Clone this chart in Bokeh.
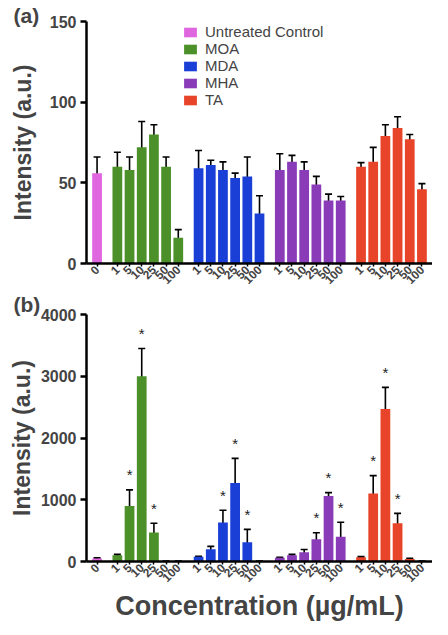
from bokeh.plotting import figure
from bokeh.layouts import column
from bokeh.models import ColumnDataSource, Whisker, TeeHead, FixedTicker, Legend, LegendItem
from bokeh.embed import file_html
from bokeh.resources import INLINE
from bokeh.core.properties import value

groups = ["Untreated Control", "MOA", "MDA", "MHA", "TA"]
colors = ["#e066e0", "#4b9028", "#1a3fd6", "#8a3cb8", "#e8442a"]
conc_labels = ["1", "5", "10", "25", "50", "100"]
control_label = "0"

# Panel (a): control mean, low, high
ctrl_a = [56, 46, 66]
a_vals = {
    "MOA": [60, 58, 72, 80, 60, 16],
    "MDA": [59, 61, 58, 53, 54, 31],
    "MHA": [58, 63, 58, 49, 39, 39],
    "TA":  [60, 63, 79, 84, 77, 46],
}
a_err = {
    "MOA": [9, 8, 16, 6, 6, 5],
    "MDA": [11, 3, 5, 3, 12, 11],
    "MHA": [10, 4, 5, 5, 4, 2.5],
    "TA":  [2.5, 9, 7, 7, 3, 3.5],
}
# Panel (b)
ctrl_b = [50, 40, 60]
b_vals = {
    "MOA": [100, 900, 3000, 470, 5, 5],
    "MDA": [75, 200, 630, 1270, 310, 5],
    "MHA": [60, 100, 150, 360, 1060, 400],
    "TA":  [70, 1100, 2470, 620, 40, 5],
}
b_err = {
    "MOA": [15, 260, 450, 150, 0, 0],
    "MDA": [10, 45, 200, 400, 210, 0],
    "MHA": [10, 15, 45, 105, 55, 235],
    "TA":  [10, 290, 350, 160, 10, 0],
}
b_star = {
    "MOA": [0, 1, 1, 1, 0, 0],
    "MDA": [0, 0, 1, 1, 1, 0],
    "MHA": [0, 0, 0, 1, 1, 1],
    "TA":  [0, 1, 1, 1, 0, 0],
}

FONT = "Liberation Sans"

def positions():
    xs = {"Untreated Control": [0]}
    for g, name in enumerate(groups[1:]):
        xs[name] = [20 * g + 5 + 3 * i for i in range(len(conc_labels))]
    return xs

XS = positions()

def build(panel, ctrl, vals, errs, ymax, yticks, frame_h, top_border, bottom_border,
          title_standoff, letter_standoff, stars=None, xlabel=None):
    p = figure(frame_width=346, frame_height=frame_h, output_backend="svg", toolbar_location=None,
               x_range=(-2.6, 82.6), y_range=(0, ymax),
               min_border_left=86, min_border_right=0,
               min_border_top=top_border, min_border_bottom=bottom_border)
    p.outline_line_color = None
    p.grid.grid_line_color = None
    p.background_fill_color = "white"
    p.border_fill_color = "white"

    p.title.text = panel
    p.title.align = "left"
    p.title.offset = -73
    p.title.standoff = letter_standoff
    p.title.text_font = FONT
    p.title.text_font_style = "bold"
    p.title.text_font_size = "21px"

    legend_items = []
    tick_pos, tick_lab = [], {}
    for gi, name in enumerate(groups):
        xs = XS[name]
        if name == "Untreated Control":
            tops = [ctrl[0]]
            lo = [ctrl[1]]
            hi = [ctrl[2]]
            labs = [control_label]
            st = [0]
        else:
            tops = vals[name]
            lo = [v - e for v, e in zip(vals[name], errs[name])]
            hi = [v + e for v, e in zip(vals[name], errs[name])]
            labs = conc_labels
            st = stars[name] if stars else [0] * len(xs)
        src = ColumnDataSource(dict(x=xs, top=tops, lo=lo, hi=hi))
        r = p.vbar(x="x", top="top", width=2.4, bottom=0, source=src,
                   fill_color=colors[gi], line_color=None)
        legend_items.append(LegendItem(label=name, renderers=[r]))
        w = Whisker(base="x", lower="lo", upper="hi", source=src,
                    line_color="black", line_width=1.6,
                    upper_head=TeeHead(size=7, line_color="black", line_width=1.6),
                    lower_head=TeeHead(size=7, line_color="black", line_width=1.6))
        p.add_layout(w)
        sx = [x for x, s in zip(xs, st) if s]
        sy = [h for h, s in zip(hi, st) if s]
        if sx:
            p.text(x=sx, y=sy, text=["*"] * len(sx), text_align="center",
                   text_baseline="middle", y_offset=-15, text_font=value(FONT),
                   text_font_size="15px", text_color="#222222")
        for x, l in zip(xs, labs):
            tick_pos.append(x)
            tick_lab[x] = l

    p.xaxis.ticker = FixedTicker(ticks=tick_pos)
    p.xaxis.major_label_overrides = tick_lab
    p.xaxis.major_label_orientation = 0.785
    p.xaxis.major_label_text_font = FONT
    p.xaxis.major_label_text_font_style = "bold"
    p.xaxis.major_label_text_font_size = "12px"
    p.xaxis.major_label_standoff = 1
    p.xaxis.major_tick_out = 3
    p.xaxis.major_tick_in = 0
    p.xaxis.minor_tick_line_color = None
    p.xaxis.axis_line_width = 2.5
    p.xaxis.major_tick_line_width = 1.5

    p.yaxis.ticker = FixedTicker(ticks=yticks)
    p.yaxis.major_label_text_font = FONT
    p.yaxis.major_label_text_font_style = "bold"
    p.yaxis.major_label_text_font_size = "16px"
    p.yaxis.major_label_standoff = 4
    p.yaxis.major_tick_out = 6
    p.yaxis.major_tick_in = 0
    p.yaxis.major_tick_line_width = 2.5
    p.yaxis.minor_tick_line_color = None
    p.yaxis.axis_line_width = 2.5
    p.yaxis.axis_label = "Intensity (a.u.)"
    p.yaxis.axis_label_text_font = FONT
    p.yaxis.axis_label_text_font_style = "bold"
    p.yaxis.axis_label_text_font_size = "23px"
    p.yaxis.axis_label_standoff = title_standoff

    if xlabel:
        p.xaxis.axis_label = xlabel
        p.xaxis.axis_label_text_font = FONT
        p.xaxis.axis_label_text_font_style = "bold"
        p.xaxis.axis_label_text_font_size = "27px"
        p.xaxis.axis_label_standoff = 2
    return p, legend_items

pa, items = build("(a)", ctrl_a, a_vals, a_err, 150, [0, 50, 100, 150], 242, 21, 29, 11, -11)
leg = Legend(items=items, location=(96, 155), background_fill_alpha=0, border_line_color=None,
             label_text_font=FONT, label_text_font_size="15px", glyph_width=16, glyph_height=12,
             label_height=12, spacing=-1, label_standoff=7, padding=0, margin=0)
pa.add_layout(leg)

pb, _ = build("(b)", ctrl_b, b_vals, b_err, 4000, [0, 1000, 2000, 3000, 4000], 247, 22, 60, 3, -3,
              stars=b_star, xlabel="Concentration (µg/mL)")

layout = column(pa, pb, spacing=0)
open("out.html", "w").write(file_html(layout, INLINE))
